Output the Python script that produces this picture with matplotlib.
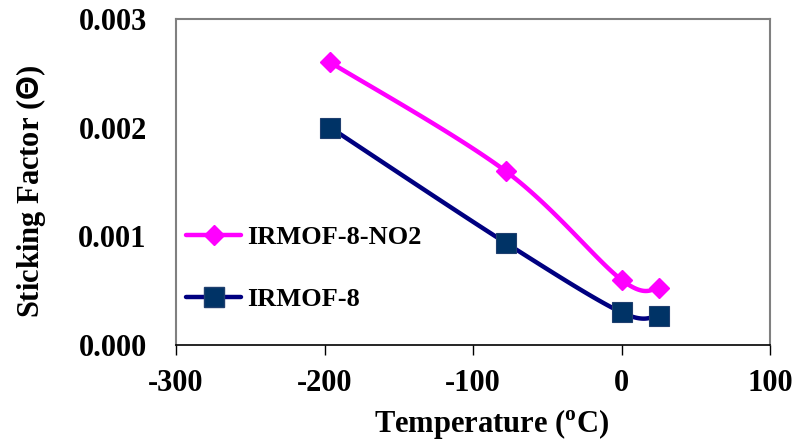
import numpy as np
import matplotlib
matplotlib.use("Agg")
import matplotlib.pyplot as plt

# ---- data ----
temps = [-196, -78, 0, 25]
no2_vals = [0.0026, 0.0016, 0.00060, 0.00052]
irmof8_vals = [0.0020, 0.00094, 0.00030, 0.00027]
series_names = ["IRMOF-8-NO2", "IRMOF-8"]
xticks = [-300, -200, -100, 0, 100]
yticks = [0.000, 0.001, 0.002, 0.003]
ytick_labels = ["0.000", "0.001", "0.002", "0.003"]

plt.rcParams['font.family'] = ['Liberation Serif', 'DejaVu Serif']
plt.rcParams['font.weight'] = 'bold'
plt.rcParams['mathtext.fontset'] = 'custom'
plt.rcParams['mathtext.rm'] = 'Liberation Serif:bold'
plt.rcParams['mathtext.bf'] = 'Liberation Serif:bold'
plt.rcParams['mathtext.sf'] = 'Liberation Sans:bold'

fig = plt.figure(figsize=(8.11, 4.42), dpi=100)
L, R, T, B = 176, 770, 19, 345
ax = fig.add_axes([L / 811, 1 - B / 442, (R - L) / 811, (B - T) / 442])
xmin, xmax, ymin, ymax = -300, 100, 0.0, 0.003
ax.set_xlim(xmin, xmax)
ax.set_ylim(ymin, ymax)

sx = (R - L) / (xmax - xmin)
sy = (B - T) / (ymax - ymin)


def smooth(xs, ys, n=40):
    P = np.column_stack([np.array(xs) * sx, np.array(ys) * sy])
    pts = [P[0]] + list(P) + [P[-1]]
    out = []
    for i in range(1, len(pts) - 2):
        p0, p1, p2, p3 = pts[i - 1], pts[i], pts[i + 1], pts[i + 2]
        c1 = p1 + (p2 - p0) / 6.0
        c2 = p2 - (p3 - p1) / 6.0
        t = np.linspace(0, 1, n)[:, None]
        seg = ((1 - t) ** 3) * p1 + 3 * ((1 - t) ** 2) * t * c1 + 3 * (1 - t) * t ** 2 * c2 + t ** 3 * p2
        out.append(seg if i == 1 else seg[1:])
    out = np.vstack(out)
    return out[:, 0] / sx, out[:, 1] / sy


mag = '#FF00FF'
navy = '#000080'
sqfill = '#003366'

cx, cy = smooth(temps, no2_vals)
ax.plot(cx, cy, color=mag, lw=3.2, solid_capstyle='round', zorder=3)
ax.plot(temps, no2_vals, ls='none', marker='D', ms=10, color=mag, mec=mag, zorder=4)
cx, cy = smooth(temps, irmof8_vals)
ax.plot(cx, cy, color=navy, lw=3.2, solid_capstyle='round', zorder=3)
ax.plot(temps, irmof8_vals, ls='none', marker='s', ms=15, color=sqfill, mec='#1f3f6f', mew=0.8, zorder=4)

# legend handles
h1, = ax.plot([], [], color=mag, lw=3.2, marker='D', ms=10, solid_capstyle='round')
h2, = ax.plot([], [], color=navy, lw=3.2, marker='s', ms=15, mfc=sqfill, mec='#1f3f6f', solid_capstyle='round')
leg = ax.legend([h1, h2], series_names, loc='upper left',
                bbox_to_anchor=((186 - L) / (R - L), (B - 226) / (B - T)),
                frameon=False, fontsize=19, handlelength=2.1, handletextpad=0.2,
                labelspacing=1.45, borderpad=0, borderaxespad=0, numpoints=1)

for s in ['left', 'top', 'right']:
    ax.spines[s].set_color('#808080')
    ax.spines[s].set_linewidth(1.5)
ax.spines['bottom'].set_color('black')
ax.spines['bottom'].set_linewidth(1.2)

ax.set_xticks(xticks)
ax.set_xticklabels([str(v) for v in xticks])
ax.set_yticks(yticks)
ax.set_yticklabels(ytick_labels)
ax.tick_params(axis='x', direction='out', length=7, width=1, pad=10, labelsize=22, colors='black')
ax.tick_params(axis='y', length=0, pad=21, labelsize=22)

ax.set_xlabel(r'Temperature ($^{\mathbf{o}}$C)', fontsize=22, fontweight='bold')
ax.xaxis.set_label_coords((492 - L) / (R - L), (B - 424) / (B - T))
ax.xaxis.label.set_verticalalignment('center')
ax.set_ylabel(r'Sticking Factor ($\mathsf{Θ}$)', fontsize=22, fontweight='bold')
ax.yaxis.set_label_coords((31 - L) / (R - L), (B - 191) / (B - T))
ax.yaxis.label.set_verticalalignment('center')

fig.savefig('out.png', dpi=100, facecolor='white')
